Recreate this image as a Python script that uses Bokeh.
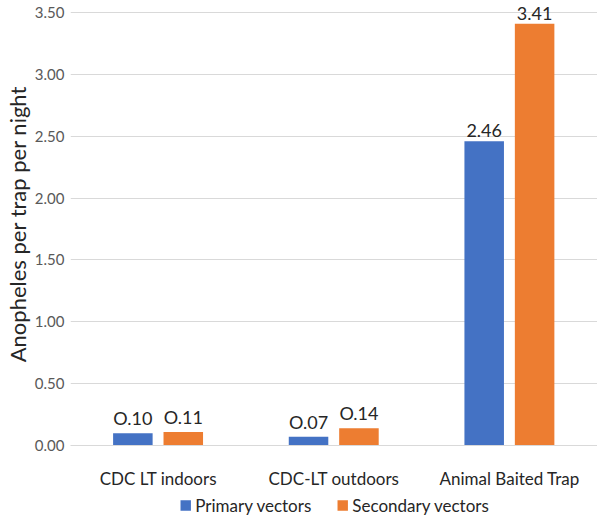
from bokeh.plotting import figure
from bokeh.layouts import column
from bokeh.models import ColumnDataSource, LabelSet, Legend, LegendItem, NumeralTickFormatter, FixedTicker, Range1d
from bokeh.core.properties import value
from bokeh.transform import dodge
from bokeh.embed import file_html
from bokeh.resources import INLINE

categories = ["CDC LT indoors", "CDC-LT outdoors", "Animal Baited Trap"]
primary = [0.10, 0.07, 2.46]
secondary = [0.11, 0.14, 3.41]
primary_labels = ["O.10", "O.07", "2.46"]
secondary_labels = ["O.11", "O.14", "3.41"]
y_ticks = [0.0, 0.5, 1.0, 1.5, 2.0, 2.5, 3.0, 3.5]
series_names = ["Primary vectors", "Secondary vectors"]

FONT = "Lato"
BLUE = "#4472C4"
ORANGE = "#ED7D31"
GRID = "#D9D9D9"
TXT = "#262626"

src = ColumnDataSource(data=dict(cat=categories, p=primary, s=secondary,
                                 pl=primary_labels, sl=secondary_labels))

p = figure(x_range=categories, y_range=Range1d(0, 3.581), width=597, height=491,
           output_backend="svg", toolbar_location=None,
           min_border_left=0, min_border_right=0, min_border_top=2, min_border_bottom=0)

rb = p.vbar(x=dodge("cat", -0.145, range=p.x_range), top="p", width=0.225, source=src,
            fill_color=BLUE, line_color=None)
ro = p.vbar(x=dodge("cat", 0.142, range=p.x_range), top="s", width=0.225, source=src,
            fill_color=ORANGE, line_color=None)

for xo, col, lab in [(-0.145, "p", "pl"), (0.142, "s", "sl")]:
    ls = LabelSet(x=dodge("cat", xo, range=p.x_range), y=col, text=lab, source=src,
                  y_offset=4, text_align="center", text_baseline="bottom",
                  text_font=value(FONT), text_font_size="18px", text_color=TXT)
    p.add_layout(ls)

p.outline_line_color = None
p.xgrid.grid_line_color = None
p.ygrid.grid_line_color = GRID
p.ygrid.grid_line_width = 1

p.yaxis.ticker = FixedTicker(ticks=y_ticks)
p.yaxis.formatter = NumeralTickFormatter(format="0.00")
p.yaxis.axis_line_color = None
p.yaxis.major_tick_line_color = None
p.yaxis.minor_tick_line_color = None
p.yaxis.major_tick_out = 0
p.yaxis.major_tick_in = 0
p.yaxis.major_label_text_font = FONT
p.yaxis.major_label_text_font_size = "15px"
p.yaxis.major_label_text_color = "#595959"
p.yaxis.major_label_standoff = 6
p.yaxis.axis_label = "Anopheles per trap per night"
p.yaxis.axis_label_text_font = FONT
p.yaxis.axis_label_text_font_size = "22px"
p.yaxis.axis_label_text_font_style = "normal"
p.yaxis.axis_label_text_color = TXT
p.yaxis.axis_label_standoff = 1

p.xaxis.axis_line_color = GRID
p.xaxis.major_tick_line_color = None
p.xaxis.minor_tick_line_color = None
p.xaxis.major_tick_out = 0
p.xaxis.major_tick_in = 0
p.xaxis.major_label_text_font = FONT
p.xaxis.major_label_text_font_size = "17px"
p.xaxis.major_label_text_color = TXT
p.xaxis.major_label_standoff = 22

# legend in its own strip below the chart (dummy renderers sit outside the visible range)
lf = figure(width=597, height=27, output_backend="svg", toolbar_location=None,
            x_range=Range1d(0, 1), y_range=Range1d(0, 1),
            min_border_left=0, min_border_right=0, min_border_top=0, min_border_bottom=0)
lf.axis.visible = False
lf.grid.visible = False
lf.outline_line_color = None
lb = lf.vbar(x=[-5], top=[-5], width=0.1, fill_color=BLUE, line_color=None)
lo = lf.vbar(x=[-5], top=[-5], width=0.1, fill_color=ORANGE, line_color=None)
legend = Legend(items=[LegendItem(label=series_names[0], renderers=[lb]),
                       LegendItem(label=series_names[1], renderers=[lo])],
                orientation="horizontal", location="center",
                label_text_font=FONT, label_text_font_size="17px", label_text_color=TXT,
                glyph_width=13, glyph_height=13, spacing=24, padding=0, margin=0,
                label_height=18, border_line_color=None, background_fill_alpha=0,
                label_standoff=4)
lf.add_layout(legend)

open("out.html", "w").write(file_html(column(p, lf, spacing=0), INLINE))
